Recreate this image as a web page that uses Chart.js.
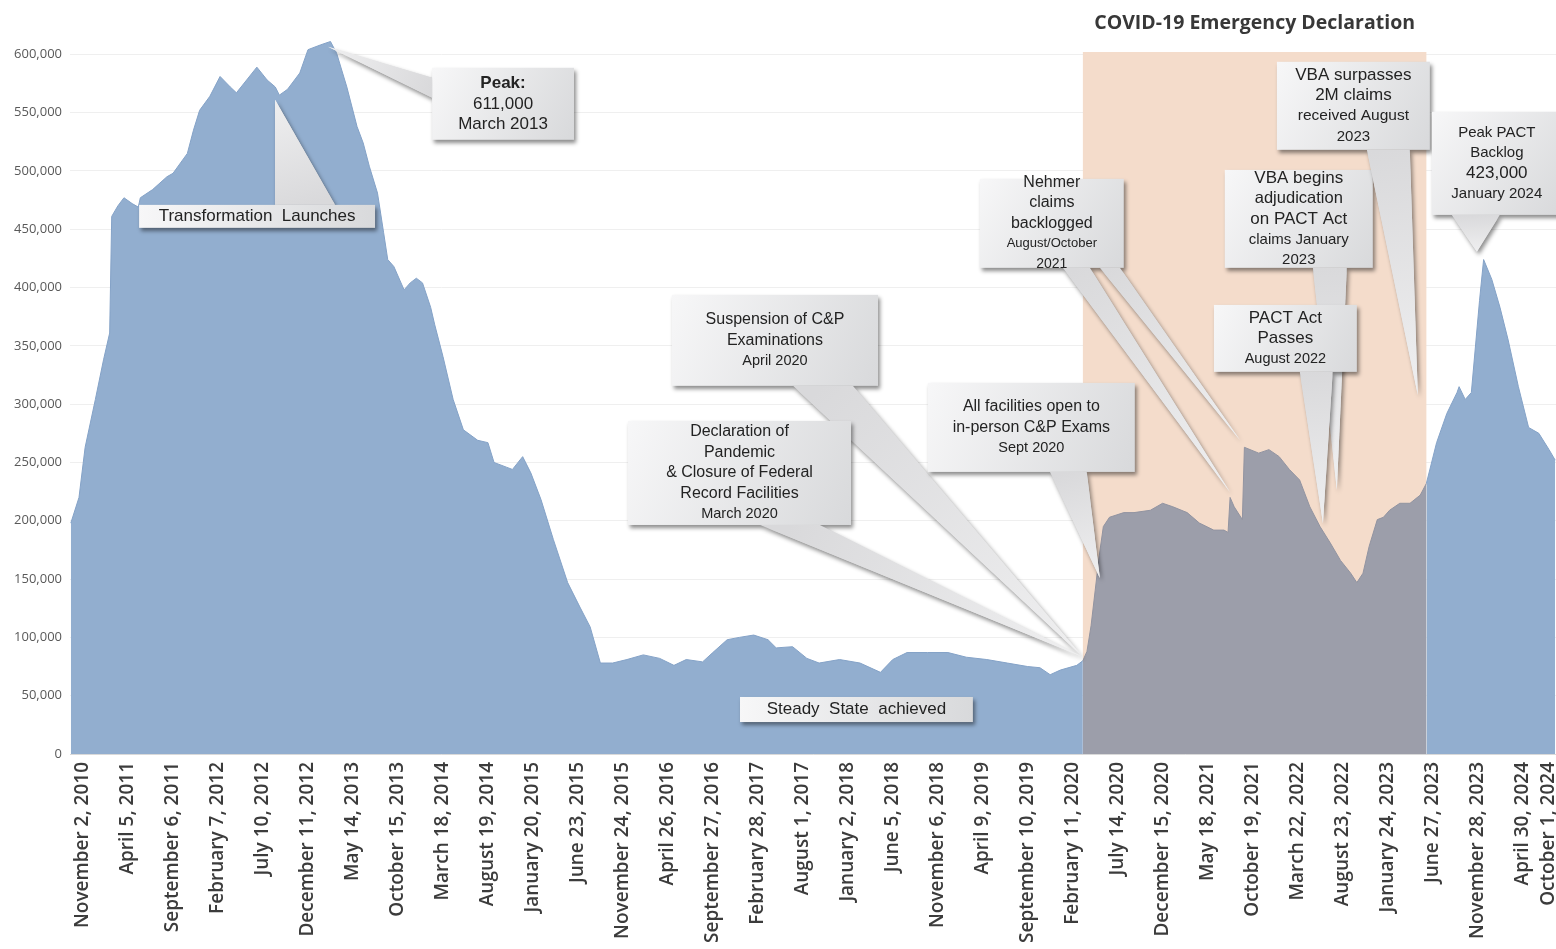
<!DOCTYPE html>
<html>
<head>
<meta charset="utf-8">
<script src="https://cdn.jsdelivr.net/npm/chart.js@4.4.1/dist/chart.umd.min.js"></script>
<style>
  html, body { margin: 0; padding: 0; background: #fff; }
  #wrap { width: 1556px; height: 949px; }
</style>
</head>
<body>
<div id="wrap"><canvas id="backlogChart" width="1556" height="949"></canvas></div>
<script>
// x tick labels, one every 22 weeks starting November 2, 2010 (week 0)
const dateLabels = [
    'November 2, 2010', 'April 5, 2011', 'September 6, 2011', 'February 7, 2012', 'July 10, 2012',
    'December 11, 2012', 'May 14, 2013', 'October 15, 2013', 'March 18, 2014', 'August 19, 2014',
    'January 20, 2015', 'June 23, 2015', 'November 24, 2015', 'April 26, 2016', 'September 27, 2016',
    'February 28, 2017', 'August 1, 2017', 'January 2, 2018', 'June 5, 2018', 'November 6, 2018',
    'April 9, 2019', 'September 10, 2019', 'February 11, 2020', 'July 14, 2020', 'December 15, 2020',
    'May 18, 2021', 'October 19, 2021', 'March 22, 2022', 'August 23, 2022', 'January 24, 2023',
    'June 27, 2023', 'November 28, 2023', 'April 30, 2024', 'October 1, 2024'
];
const labelStep = 22;

// y tick values
const yTicks = [0, 50000, 100000, 150000, 200000, 250000, 300000, 350000, 400000, 450000, 500000, 550000, 600000];

// weeks since November 2, 2010
const weeks = [
    -6, -2, 1, 6, 10, 13, 14, 17, 20, 24, 27, 28, 34, 41, 44, 51, 54, 57, 62, 67,
    72, 75, 80, 85, 90, 94, 96, 100, 106, 110, 116, 121, 124, 129, 134, 137, 140, 144, 147, 149,
    152, 157, 160, 163, 166, 170, 172, 176, 181, 186, 193, 198, 201, 207, 210, 215, 219, 224, 230, 237,
    243, 248, 253, 259, 266, 274, 282, 289, 295, 303, 308, 315, 321, 328, 335, 339, 347, 354, 360, 370,
    380, 390, 396, 403, 413, 423, 432, 442, 452, 462, 468, 473, 478, 486, 489, 491, 493, 495, 497, 499,
    502, 509, 514, 522, 528, 533, 540, 546, 553, 558, 560, 561, 563, 567, 568, 575, 580, 585, 590, 595,
    600, 605, 610, 615, 620, 623, 626, 629, 633, 636, 639, 644, 649, 654, 657, 662, 667, 672, 673, 676,
    679, 683, 685, 689, 693, 697, 702, 707, 712, 717, 720
];

// pending claims backlog
const backlog = [
    198000, 220000, 263000, 304000, 338000, 361000, 461000, 470000, 477000, 472000, 469000, 477000, 484000, 495000, 498000, 515000, 535000, 552000, 564000, 581000,
    572000, 567000, 578000, 589000, 578000, 572000, 565000, 570000, 584000, 604000, 608000, 611000, 601000, 572000, 538000, 524000, 504000, 481000, 447000, 424000,
    418000, 398000, 404000, 408000, 404000, 383000, 368000, 341000, 304000, 278000, 269000, 267000, 250000, 246000, 244000, 255000, 241000, 218000, 184000, 147000,
    126000, 109000, 78000, 78000, 81000, 85000, 82000, 76000, 81000, 79000, 87000, 98000, 100000, 102000, 98000, 91000, 92000, 82000, 78000, 81000,
    78000, 70000, 81000, 87000, 87000, 87000, 83000, 81000, 78000, 75000, 74000, 68000, 72000, 76000, 80000, 88000, 110000, 140000, 170000, 195000,
    203000, 207000, 207000, 209000, 215000, 212000, 207000, 198000, 192000, 192000, 190000, 220000, 212000, 201000, 263000, 258000, 261000, 255000, 244000, 235000,
    212000, 195000, 181000, 166000, 155000, 147000, 155000, 178000, 201000, 203000, 209000, 215000, 215000, 222000, 232000, 267000, 292000, 310000, 315000, 304000,
    310000, 389000, 424000, 407000, 383000, 355000, 315000, 280000, 275000, 261000, 252000
];

// COVID-19 emergency declaration window, in weeks
const emergencyWeeks = [489, 657];

// callouts: box = [week from, week to, value top, value bottom], tails = [base1, base2, tip]
const callouts = [
    { box: [170.7, 240.1, 588400, 526700],
      tails: [[[170.7, 579900], [170.7, 562700], [119.8, 606500]]],
      lines: [['Peak:', 17, true], ['611,000', 17], ['March 2013', 17]] },
    { box: [27.4, 142.8, 470900, 451200],
      tails: [[[93.9, 470900], [123.2, 470900], [93.9, 561000]]],
      lines: [['Transformation  Launches', 17]] },
    { box: [288.0, 388.8, 393700, 315700],
      tails: [[[347.2, 315700], [376.5, 315700], [489, 83200]]],
      lines: [['Suspension of C&P', 16], ['Examinations', 16], ['April 2020', 14.5]] },
    { box: [266.5, 375.6, 285600, 196400],
      tails: [[[331.1, 196400], [360.4, 196400], [489, 83200]]],
      lines: [['Declaration of', 16], ['Pandemic', 16], ['& Closure of Federal', 16], ['Record Facilities', 16], ['March 2020', 14.5]] },
    { box: [413.2, 514.4, 318200, 241900],
      tails: [[[472.9, 241900], [490.9, 241900], [497.3, 151000]]],
      lines: [['All facilities open to', 16], ['in-person C&P Exams', 16], ['Sept 2020', 14.5]] },
    { box: [438.6, 509.0, 493200, 416900],
      tails: [[[479.2, 416900], [492.4, 416900], [560.9, 224700]],
              [[497.3, 416900], [507.1, 416900], [565.8, 269300]]],
      lines: [['Nehmer', 16], ['claims', 16], ['backlogged', 16], ['August/October', 13], ['2021', 14]] },
    { box: [558.4, 630.8, 500900, 416900],
      tails: [[[601.5, 416900], [618.1, 416900], [613.2, 226500]]],
      lines: [['VBA begins', 17], ['adjudication', 16.5], ['on PACT Act', 17], ['claims January', 15], ['2023', 15]] },
    { box: [553.1, 623.0, 385100, 327700],
      tails: [[[595.1, 327700], [611.2, 327700], [606.4, 198100]]],
      lines: [['PACT Act', 17], ['Passes', 17], ['August 2022', 14.5]] },
    { box: [583.9, 658.7, 593600, 518100],
      tails: [[[627.9, 518100], [648.9, 518100], [652.8, 307900]]],
      lines: [['VBA surpasses', 17], ['2M claims', 17], ['received August', 15.5], ['2023', 15]] },
    { box: [659.7, 723.2, 550700, 462300],
      tails: [[[669.4, 462300], [692.9, 462300], [681.7, 430600]]],
      lines: [['Peak PACT', 15], ['Backlog', 15], ['423,000', 17], ['January 2024', 15]] },
    { box: [321.3, 435.2, 48900, 27400],
      tails: [],
      lines: [['Steady  State  achieved', 17]] }
];

const points = weeks.map((w, i) => ({ x: w, y: backlog[i] }));

function inEmergency(seg) {
    return seg.p0.parsed.x >= emergencyWeeks[0] && seg.p1.parsed.x <= emergencyWeeks[1];
}

const covidPlugin = {
    id: 'covid',
    beforeDatasetsDraw(chart) {
        const { ctx, chartArea, scales: { x, y } } = chart;
        const x0 = x.getPixelForValue(emergencyWeeks[0]);
        const x1 = x.getPixelForValue(emergencyWeeks[1]);
        const top = y.getPixelForValue(602000);
        ctx.save();
        ctx.fillStyle = '#f4dccb';
        ctx.fillRect(x0, top, x1 - x0, chartArea.bottom - top);
        ctx.restore();
    },
    afterDraw(chart) {
        const { ctx, scales: { x, y } } = chart;

        // title over the emergency window
        const cx = (x.getPixelForValue(emergencyWeeks[0]) + x.getPixelForValue(emergencyWeeks[1])) / 2;
        ctx.save();
        ctx.font = 'bold 19.5px "Open Sans", sans-serif';
        ctx.fillStyle = '#383838';
        ctx.textAlign = 'center';
        ctx.textBaseline = 'middle';
        ctx.fillText('COVID-19 Emergency Declaration', cx, 23);
        ctx.restore();

        callouts.forEach(c => drawCallout(ctx, x, y, c));
    }
};

function tailPath(ctx, xs, ys, t) {
    const bx = xs.getPixelForValue(t[0][0]), by = ys.getPixelForValue(t[0][1]);
    const cx2 = xs.getPixelForValue(t[1][0]), cy2 = ys.getPixelForValue(t[1][1]);
    const tx = xs.getPixelForValue(t[2][0]), ty = ys.getPixelForValue(t[2][1]);
    const g = ctx.createLinearGradient((bx + cx2) / 2, (by + cy2) / 2, tx, ty);
    g.addColorStop(0, '#d9d9db');
    g.addColorStop(1, '#efeff0');
    ctx.fillStyle = g;
    ctx.beginPath();
    ctx.moveTo(bx, by);
    ctx.lineTo(tx, ty);
    ctx.lineTo(cx2, cy2);
    ctx.closePath();
    ctx.fill();
}

function drawCallout(ctx, xs, ys, c) {
    const x0 = xs.getPixelForValue(c.box[0]);
    const x1 = xs.getPixelForValue(c.box[1]);
    const y0 = ys.getPixelForValue(c.box[2]);
    const y1 = ys.getPixelForValue(c.box[3]);

    ctx.save();
    ctx.shadowColor = 'rgba(0, 0, 0, 0.45)';
    ctx.shadowBlur = 4;
    ctx.shadowOffsetX = 2;
    ctx.shadowOffsetY = 3;
    c.tails.forEach(t => tailPath(ctx, xs, ys, t));
    const grad = ctx.createLinearGradient(x0, y0, x1, y1);
    grad.addColorStop(0, '#f7f7f8');
    grad.addColorStop(1, '#d8d9db');
    ctx.fillStyle = grad;
    ctx.fillRect(x0, y0, x1 - x0, y1 - y0);
    ctx.restore();

    // tails again without shadow so the joint with the box is clean
    ctx.save();
    c.tails.forEach(t => tailPath(ctx, xs, ys, t));
    ctx.restore();

    // text, centred in the box
    const step = 20.5;
    const mid = (y0 + y1) / 2;
    const first = mid - (c.lines.length - 1) * step / 2;
    ctx.save();
    ctx.fillStyle = '#232323';
    ctx.textAlign = 'center';
    ctx.textBaseline = 'middle';
    c.lines.forEach((l, i) => {
        ctx.font = (l[2] ? 'bold ' : '') + l[1] + 'px "Liberation Sans", Arial, sans-serif';
        ctx.fillText(l[0], (x0 + x1) / 2, first + i * step);
    });
    ctx.restore();
}

const ctx = document.getElementById('backlogChart').getContext('2d');

new Chart(ctx, {
    type: 'line',
    data: {
        datasets: [{
            label: 'Backlog',
            data: points,
            fill: 'origin',
            backgroundColor: '#92aecf',
            borderColor: '#84a2c7',
            borderWidth: 1,
            pointRadius: 0,
            tension: 0,
            segment: {
                backgroundColor: seg => inEmergency(seg) ? '#9c9eaa' : undefined,
                borderColor: seg => inEmergency(seg) ? '#9294a1' : undefined
            }
        }]
    },
    options: {
        responsive: false,
        animation: false,
        devicePixelRatio: 1,
        layout: { padding: { top: 31, right: 0, bottom: 0, left: 0 } },
        plugins: {
            legend: { display: false },
            tooltip: { enabled: false }
        },
        scales: {
            x: {
                type: 'linear',
                min: -6.4,
                max: 720.4,
                grid: { display: false, drawTicks: false },
                border: { display: true, color: '#d9d9d9' },
                afterBuildTicks: (scale) => {
                    scale.ticks = dateLabels.map((l, i) => ({ value: Math.min(i * labelStep, 717) }));
                },
                afterFit: (scale) => {
                    scale.height = 195;
                    scale.paddingLeft = 0;
                    scale.paddingRight = 0;
                },
                ticks: {
                    autoSkip: false,
                    maxRotation: 90,
                    minRotation: 90,
                    padding: 8,
                    color: '#3c3c3c',
                    font: { family: '"Open Sans", sans-serif', size: 19, weight: '600' },
                    callback: (value, index) => dateLabels[index]
                }
            },
            y: {
                type: 'linear',
                min: 0,
                max: 620000,
                grid: { color: '#efefef', drawTicks: false },
                border: { display: false },
                afterBuildTicks: (scale) => {
                    scale.ticks = yTicks.map(v => ({ value: v }));
                },
                afterFit: (scale) => {
                    scale.width = 70;
                    scale.paddingTop = 0;
                    scale.paddingBottom = 0;
                },
                ticks: {
                    autoSkip: false,
                    padding: 8,
                    color: '#595959',
                    font: { family: '"Open Sans", sans-serif', size: 13 },
                    callback: (value, index) => yTicks[index].toLocaleString('en-US')
                }
            }
        }
    },
    plugins: [covidPlugin]
});
</script>
</body>
</html>
